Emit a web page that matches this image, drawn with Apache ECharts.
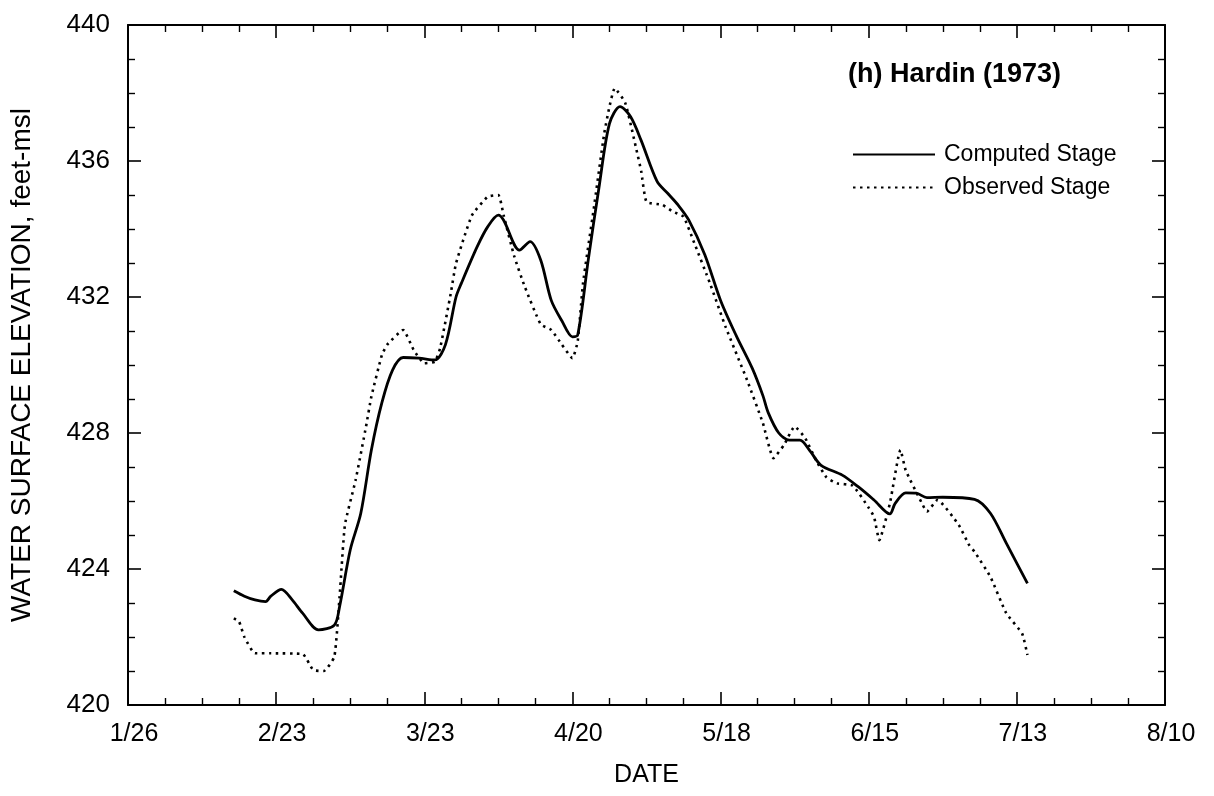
<!DOCTYPE html>
<html>
<head>
<meta charset="utf-8">
<script src="https://cdn.jsdelivr.net/npm/echarts@6/dist/echarts.min.js"></script>
<style>
html,body{margin:0;padding:0;background:#fff;}
#chart{width:1214px;height:796px;}
</style>
</head>
<body>
<div id="chart"></div>
<script>
// Days counted from 1/26 (1973)
const tickLabels = ['1/26','2/23','3/23','4/20','5/18','6/15','7/13','8/10'];

const computedDays = [20,22,24,26,27,29,31,33,36,39,40,42,44,46,48,50,52,55,58,60,62,63,66,68,70,71,74,76,78,80,82,84,85,87,89,91,93,95,97,100,102,104,106,109,112,115,118,120,121,123,125,127,129,131,135,138,141,144,145,147,149,151,154,160,163,166,170];
const computedStage = [423.36,423.2,423.09,423.04,423.2,423.4,423.1,422.7,422.21,422.35,422.9,424.56,425.64,427.5,428.9,429.85,430.22,430.2,430.15,430.6,432.0,432.4,433.48,434.07,434.41,434.26,433.38,433.63,433.09,431.9,431.3,430.83,430.88,433.1,435.2,437.1,437.6,437.3,436.6,435.4,435.05,434.7,434.26,433.25,431.9,430.85,429.9,429.1,428.6,428.0,427.79,427.79,427.45,427.05,426.76,426.42,426.03,425.62,425.93,426.24,426.23,426.1,426.11,426.05,425.64,424.76,423.58];

const observedDays = [20,21,22,24,27,33,35,37,39,40,41,43,45,46,48,49,52,54,56,58,59,61,62,65,68,70,71,73,75,78,80,82,84,85,86,88,90,91,92,94,96,97,98,101,103,105,107,110,113,117,120,122,124,126,128,130,132,134,137,140,141,142,144,146,147,150,151,153,157,159,160,163,166,169,170];
const observedStage = [422.55,422.45,422.0,421.52,421.52,421.5,421.03,421.0,421.42,423.2,425.3,426.6,428.2,429.07,430.3,430.6,431.03,430.44,430.05,430.1,430.5,432.1,432.99,434.4,434.95,435.0,434.4,433.2,432.3,431.2,431.03,430.6,430.2,430.7,432.4,434.56,436.8,437.6,438.14,437.7,436.4,435.7,434.8,434.71,434.51,434.36,433.6,432.4,431.1,429.56,428.29,427.26,427.65,428.19,427.85,427.21,426.7,426.52,426.45,425.8,425.54,424.85,425.93,427.5,426.9,425.95,425.69,426.03,425.3,424.7,424.51,423.77,422.7,422.1,421.47];

const FONT = 'Liberation Sans, Arial, Helvetica, sans-serif';
const zip = (xs, ys) => xs.map((x, i) => [x, ys[i]]);

const chart = echarts.init(document.getElementById('chart'), null, {renderer: 'canvas'});

function xAx(pos, showLabel) {
  return {
    type: 'value', position: pos, min: 0, max: 196, interval: 28,
    name: pos === 'bottom' ? 'DATE' : '', nameLocation: 'middle', nameGap: 58,
    nameTextStyle: {fontFamily: FONT, fontSize: 25, color: '#000'},
    axisLine: {show: true, onZero: false, lineStyle: {color: '#000', width: 2}},
    axisTick: {show: true, inside: true, length: 13, lineStyle: {color: '#000', width: 1.6}},
    minorTick: {show: true, splitNumber: 4, length: 7, lineStyle: {color: '#000', width: 1.4}},
    axisLabel: {show: showLabel, fontFamily: FONT, fontSize: 25, color: '#000', margin: 17,
      padding: [0, 0, 0, 12],
      formatter: v => tickLabels[Math.round(v / 28)] || ''},
    splitLine: {show: false}, minorSplitLine: {show: false}
  };
}
function yAx(pos, showLabel) {
  return {
    type: 'value', position: pos, min: 420, max: 440, interval: 4,
    name: pos === 'left' ? 'WATER SURFACE ELEVATION, feet-msl' : '', nameLocation: 'middle', nameGap: 92,
    nameTextStyle: {fontFamily: FONT, fontSize: 28, color: '#000'},
    axisLine: {show: true, onZero: false, lineStyle: {color: '#000', width: 2}},
    axisTick: {show: true, inside: true, length: 13, lineStyle: {color: '#000', width: 1.6}},
    minorTick: {show: true, splitNumber: 4, length: 7, lineStyle: {color: '#000', width: 1.4}},
    axisLabel: {show: showLabel, fontFamily: FONT, fontSize: 26, color: '#000', margin: 18},
    splitLine: {show: false}, minorSplitLine: {show: false}
  };
}

chart.setOption({
  animation: false,
  backgroundColor: '#fff',
  grid: {left: 127.5, right: 49, top: 25, bottom: 91, containLabel: false},
  title: {
    text: '(h) Hardin (1973)', left: 848, top: 61, padding: 0,
    textStyle: {fontFamily: FONT, fontSize: 27, fontWeight: 'bold', color: '#000'}
  },
  legend: {
    orient: 'vertical', left: 852, top: 143, padding: 0, itemGap: 10,
    itemWidth: 82, itemHeight: 14,
    itemStyle: {opacity: 0, borderWidth: 0},
    textStyle: {fontFamily: FONT, fontSize: 23, color: '#000', padding: [0, 0, 0, 4]},
    data: ['Computed Stage', 'Observed Stage']
  },
  xAxis: [xAx('bottom', true), xAx('top', false)],
  yAxis: [yAx('left', true), yAx('right', false)],
  series: [
    {
      name: 'Computed Stage', type: 'line', xAxisIndex: 0, yAxisIndex: 0,
      data: zip(computedDays, computedStage), showSymbol: false, symbol: 'none', smooth: 0.3,
      lineStyle: {color: '#000', width: 2.8, type: 'solid'}, itemStyle: {color: '#000'}
    },
    {
      name: 'Observed Stage', type: 'line', xAxisIndex: 0, yAxisIndex: 0,
      data: zip(observedDays, observedStage), showSymbol: false, symbol: 'none', smooth: 0.15,
      lineStyle: {color: '#000', width: 2.6, type: [2.5, 4.5]}, itemStyle: {color: '#000'}
    }
  ]
});
</script>
</body>
</html>
